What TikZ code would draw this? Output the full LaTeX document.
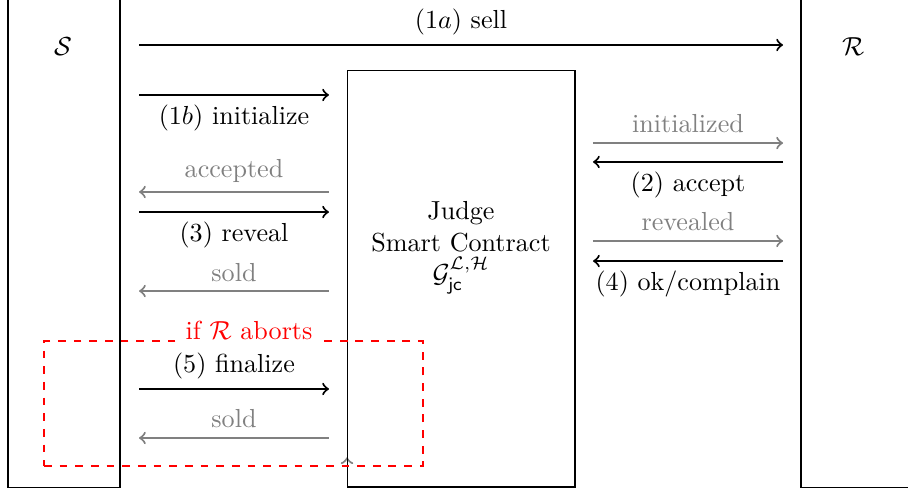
\documentclass[tikz,border=0pt]{standalone}
\usepackage{tikz}
\usetikzlibrary{positioning, calc}

\begin{document}
\begin{tikzpicture}
    \tikzset{
        >=to, % konica puscice
        party/.style={draw, thin, minimum width=1.508cm, minimum height=6.96cm}, % stranki S in R
        msg/.style={->, thick}, % poslano sporocilo
        reply/.style={->, thick, gray}, % odziv pogodbe
        abort/.style={draw=red, thick, dashed, minimum width=5.104cm, minimum height=1.683cm}, % primer prekinitve
    }
    \useasboundingbox (0,0) rectangle (12.227,-6.627);

    % stranki in pogodba
    \node[party] (S) at (0.862,-3.079) {};
    \node[party] (R) at (11.540,-3.079) {};
    \node at (0.848,-0.633) (Slbl) {$\mathcal{S}$};
    \node at (11.487,-0.633) (Rlbl) {$\mathcal{R}$};

    \coordinate (Jtip0) at (4.673,-6.17);
    \coordinate (Jtip1) at (4.673,-6.158);
    \draw[reply] (Jtip0) -- (Jtip1);

    \node[draw, thin, minimum width=3.070cm, minimum height=5.615cm] (J) at (6.208,-3.7505) {};
    \node[align=center] (Jlbl) at (6.208,-3.335) {Judge\\Smart Contract\\$\mathcal{G}^{\mathcal{L},\mathcal{H}}_{\mathsf{jc}}$};

    % tocke za puscice
    \coordinate (Ssell) at (1.872,-0.606);
    \coordinate (Rsell) at (10.544,-0.606);
    \foreach \n/\y in {init/-1.279, acc/-2.585, rev/-2.855, sold/-3.919, fin/-5.238, sold2/-5.898}{
        \coordinate (S\n) at (1.872,\y);
        \coordinate (J\n) at (4.430,\y);
    }
    \foreach \n/\y in {ini/-1.926, acpt/-2.181, rvld/-3.245, okc/-3.515}{
        \coordinate (J\n) at (7.985,\y);
        \coordinate (R\n) at (10.544,\y);
    }

    % okvir za prekinitev
    \node[abort] (ab) at (3.144,-5.434) {};
    \node[fill=white, text=red] (ablbl) at ([xshift=0.21cm, yshift=0.135cm]ab.north) {if $\mathcal{R}$ aborts};

    \draw
    (Ssell) edge[msg] node[above]{(1$a$) sell} (Rsell)
    (Sinit) edge[msg] node[below]{(1$b$) initialize} (Jinit)
    (Jacc) edge[reply] node[above]{accepted} (Sacc)
    (Srev) edge[msg] node[below]{(3) reveal} (Jrev)
    (Jsold) edge[reply] node[above]{sold} (Ssold)
    (Jini) edge[reply] node[above]{initialized} (Rini)
    (Racpt) edge[msg] node[below]{(2) accept} (Jacpt)
    (Jrvld) edge[reply] node[above]{revealed} (Rrvld)
    (Rokc) edge[msg] node[below]{(4) ok/complain} (Jokc)
    (Sfin) edge[msg] node[above]{(5) finalize} (Jfin)
    (Jsold2) edge[reply] node[above]{sold} (Ssold2);
\end{tikzpicture}
\end{document}
